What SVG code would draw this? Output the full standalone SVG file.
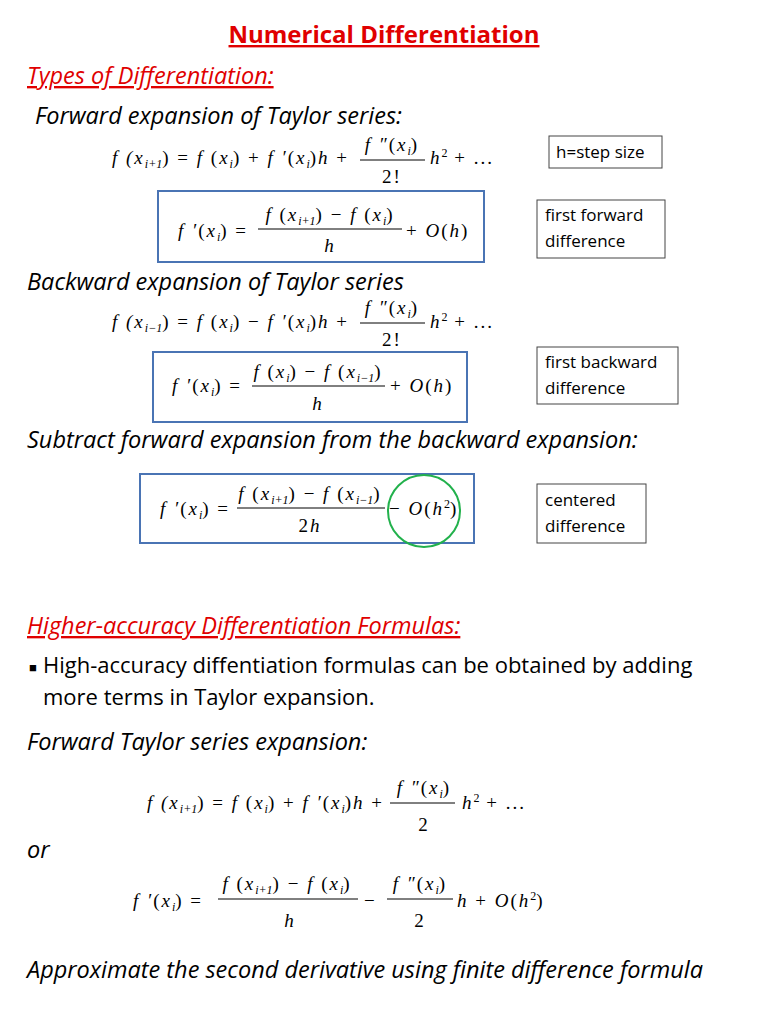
<svg xmlns="http://www.w3.org/2000/svg" width="768" height="1024" viewBox="0 0 768 1024">
<style>
.t{font-family:"Open Sans","Liberation Sans",sans-serif;font-size:22px;fill:#000}
.it{font-style:italic;font-size:23.5px}
.red{fill:#e00000}
.m{font-family:"Liberation Serif",serif;font-size:19px;font-style:italic;fill:#000;letter-spacing:2px}
.r{font-style:normal}
.s{font-size:12px;letter-spacing:0}
.lbl{font-family:"Open Sans","Liberation Sans",sans-serif;font-size:17px;fill:#000}
.fl{stroke:#000;stroke-width:1}
.box{fill:none;stroke:#4a74b4;stroke-width:2}
.bb{fill:#fff;stroke:#444;stroke-width:1}
</style>
<rect width="768" height="1024" fill="#fff"/>
<text x="384" y="43" text-anchor="middle" class="t red" style="font-weight:bold;font-size:24px;text-decoration:underline">Numerical Differentiation</text>
<text x="27" y="84" class="t it red" style="text-decoration:underline">Types of Differentiation:</text>
<text x="35" y="124" class="t it">Forward expansion of Taylor series:</text>

<g id="eq1">
<text x="112" y="164" class="m">f (x<tspan class="s" dy="4">i+1</tspan><tspan dy="-4" class="r">) = </tspan>f <tspan class="r">(</tspan>x<tspan class="s" dy="4">i</tspan><tspan dy="-4" class="r">) + </tspan>f ′<tspan class="r">(</tspan>x<tspan class="s" dy="4">i</tspan><tspan dy="-4" class="r">)</tspan>h <tspan class="r">+</tspan></text>
<text x="392" y="151" text-anchor="middle" class="m">f ″<tspan class="r">(</tspan>x<tspan class="s" dy="4">i</tspan><tspan dy="-4" class="r">)</tspan></text>
<line x1="360" y1="160" x2="425" y2="160" class="fl"/>
<text x="392" y="183" text-anchor="middle" class="m r">2!</text>
<text x="430" y="164" class="m">h<tspan class="s r" dy="-7">2</tspan><tspan class="r" dy="7"> + ...</tspan></text>
</g>
<g id="hstep"><rect x="549" y="136" width="113" height="32" class="bb"/><text x="556" y="158" class="lbl">h=step size</text></g>

<g id="box1">
<rect x="158" y="191" width="326" height="71" class="box"/>
<text x="178" y="237" class="m">f ′<tspan class="r">(</tspan>x<tspan class="s" dy="4">i</tspan><tspan dy="-4" class="r">) =</tspan></text>
<text x="330" y="221" text-anchor="middle" class="m">f <tspan class="r">(</tspan>x<tspan class="s" dy="4">i+1</tspan><tspan dy="-4" class="r">) − </tspan>f <tspan class="r">(</tspan>x<tspan class="s" dy="4">i</tspan><tspan dy="-4" class="r">)</tspan></text>
<line x1="258" y1="229" x2="402" y2="229" class="fl"/>
<text x="330" y="252" text-anchor="middle" class="m">h</text>
<text x="406" y="237" class="m"><tspan class="r">+ </tspan>O<tspan class="r">(</tspan>h<tspan class="r">)</tspan></text>
</g>
<g id="ffd"><rect x="537" y="200" width="128" height="58" class="bb"/><text x="545" y="221" class="lbl">first forward</text><text x="545" y="247" class="lbl">difference</text></g>

<text x="27" y="290" class="t it">Backward expansion of Taylor series</text>
<g id="eq2">
<text x="112" y="328" class="m">f (x<tspan class="s" dy="4">i−1</tspan><tspan dy="-4" class="r">) = </tspan>f <tspan class="r">(</tspan>x<tspan class="s" dy="4">i</tspan><tspan dy="-4" class="r">) − </tspan>f ′<tspan class="r">(</tspan>x<tspan class="s" dy="4">i</tspan><tspan dy="-4" class="r">)</tspan>h <tspan class="r">+</tspan></text>
<text x="392" y="314" text-anchor="middle" class="m">f ″<tspan class="r">(</tspan>x<tspan class="s" dy="4">i</tspan><tspan dy="-4" class="r">)</tspan></text>
<line x1="360" y1="323" x2="425" y2="323" class="fl"/>
<text x="392" y="346" text-anchor="middle" class="m r">2!</text>
<text x="430" y="328" class="m">h<tspan class="s r" dy="-7">2</tspan><tspan class="r" dy="7"> + ...</tspan></text>
</g>
<g id="box2">
<rect x="153" y="352" width="314" height="70" class="box"/>
<text x="172" y="392" class="m">f ′<tspan class="r">(</tspan>x<tspan class="s" dy="4">i</tspan><tspan dy="-4" class="r">) =</tspan></text>
<text x="318" y="378" text-anchor="middle" class="m">f <tspan class="r">(</tspan>x<tspan class="s" dy="4">i</tspan><tspan dy="-4" class="r">) − </tspan>f <tspan class="r">(</tspan>x<tspan class="s" dy="4">i−1</tspan><tspan dy="-4" class="r">)</tspan></text>
<line x1="252" y1="386" x2="385" y2="386" class="fl"/>
<text x="318" y="410" text-anchor="middle" class="m">h</text>
<text x="390" y="392" class="m"><tspan class="r">+ </tspan>O<tspan class="r">(</tspan>h<tspan class="r">)</tspan></text>
</g>
<g id="fbd"><rect x="537" y="347" width="141" height="57" class="bb"/><text x="545" y="368" class="lbl">first backward</text><text x="545" y="394" class="lbl">difference</text></g>

<text x="27" y="448" class="t it">Subtract forward expansion from the backward expansion:</text>
<g id="box3">
<rect x="140" y="474" width="334" height="69" class="box"/>
<text x="160" y="515" class="m">f ′<tspan class="r">(</tspan>x<tspan class="s" dy="4">i</tspan><tspan dy="-4" class="r">) =</tspan></text>
<text x="310" y="500" text-anchor="middle" class="m">f <tspan class="r">(</tspan>x<tspan class="s" dy="4">i+1</tspan><tspan dy="-4" class="r">) − </tspan>f <tspan class="r">(</tspan>x<tspan class="s" dy="4">i−1</tspan><tspan dy="-4" class="r">)</tspan></text>
<line x1="237" y1="508" x2="385" y2="508" class="fl"/>
<text x="310" y="532" text-anchor="middle" class="m"><tspan class="r">2</tspan>h</text>
<text x="389" y="515" class="m"><tspan class="r">− </tspan>O<tspan class="r">(</tspan>h<tspan class="s r" dy="-7">2</tspan><tspan class="r" dy="7">)</tspan></text>
<ellipse cx="424" cy="511" rx="36" ry="36" fill="none" stroke="#22b14c" stroke-width="2"/>
</g>
<g id="cd"><rect x="537" y="484" width="109" height="59" class="bb"/><text x="545" y="506" class="lbl">centered</text><text x="545" y="532" class="lbl">difference</text></g>

<text x="27" y="634" class="t it red" style="text-decoration:underline">Higher-accuracy Differentiation Formulas:</text>
<text x="29" y="672" class="t" style="font-size:13px">■</text>
<text x="43" y="673" class="t">High-accuracy diffentiation formulas can be obtained by adding</text>
<text x="43" y="705" class="t">more terms in Taylor expansion.</text>
<text x="27" y="750" class="t it">Forward Taylor series expansion:</text>

<g id="eq3">
<text x="147" y="809" class="m">f (x<tspan class="s" dy="4">i+1</tspan><tspan dy="-4" class="r">) = </tspan>f <tspan class="r">(</tspan>x<tspan class="s" dy="4">i</tspan><tspan dy="-4" class="r">) + </tspan>f ′<tspan class="r">(</tspan>x<tspan class="s" dy="4">i</tspan><tspan dy="-4" class="r">)</tspan>h <tspan class="r">+</tspan></text>
<text x="424" y="794" text-anchor="middle" class="m">f ″<tspan class="r">(</tspan>x<tspan class="s" dy="4">i</tspan><tspan dy="-4" class="r">)</tspan></text>
<line x1="390" y1="803" x2="455" y2="803" class="fl"/>
<text x="424" y="831" text-anchor="middle" class="m r">2</text>
<text x="462" y="809" class="m">h<tspan class="s r" dy="-7">2</tspan><tspan class="r" dy="7"> + ...</tspan></text>
</g>
<text x="27" y="858" class="t it">or</text>
<g id="eq4">
<text x="133" y="907" class="m">f ′<tspan class="r">(</tspan>x<tspan class="s" dy="4">i</tspan><tspan dy="-4" class="r">) =</tspan></text>
<text x="287" y="890" text-anchor="middle" class="m">f <tspan class="r">(</tspan>x<tspan class="s" dy="4">i+1</tspan><tspan dy="-4" class="r">) − </tspan>f <tspan class="r">(</tspan>x<tspan class="s" dy="4">i</tspan><tspan dy="-4" class="r">)</tspan></text>
<line x1="218" y1="899" x2="358" y2="899" class="fl"/>
<text x="290" y="927" text-anchor="middle" class="m">h</text>
<text x="364" y="907" class="m r">−</text>
<text x="420" y="890" text-anchor="middle" class="m">f ″<tspan class="r">(</tspan>x<tspan class="s" dy="4">i</tspan><tspan dy="-4" class="r">)</tspan></text>
<line x1="387" y1="899" x2="453" y2="899" class="fl"/>
<text x="420" y="927" text-anchor="middle" class="m r">2</text>
<text x="457" y="907" class="m">h<tspan class="r"> + </tspan>O<tspan class="r">(</tspan>h<tspan class="s r" dy="-7">2</tspan><tspan class="r" dy="7">)</tspan></text>
</g>
<text x="27" y="978" class="t it">Approximate the second derivative using finite difference formula</text>
</svg>
